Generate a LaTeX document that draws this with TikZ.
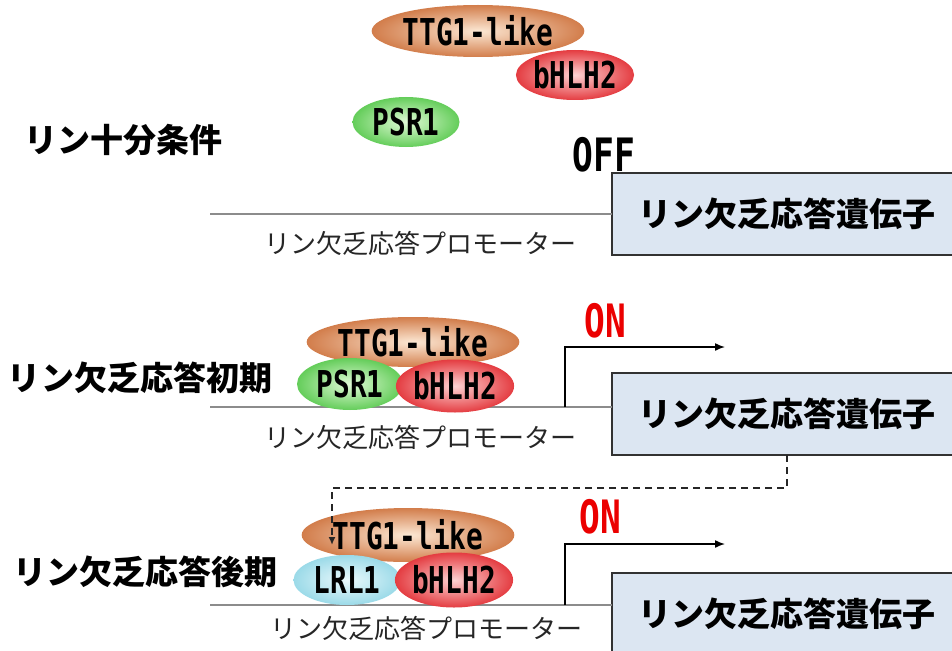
\documentclass[tikz,border=0pt]{standalone}
\usepackage{fontspec}
\usepackage{graphicx}
\setmainfont{Noto Sans CJK JP}
\setmonofont{DejaVu Sans Mono}
\usetikzlibrary{shapes.geometric,arrows.meta}

\definecolor{ttgout}{RGB}{210,125,75}
\definecolor{ttgin}{RGB}{252,232,212}
\definecolor{bhlhout}{RGB}{228,60,65}
\definecolor{bhlhin}{RGB}{253,210,210}
\definecolor{psrout}{RGB}{100,205,90}
\definecolor{psrin}{RGB}{225,250,215}
\definecolor{lrlout}{RGB}{155,218,232}
\definecolor{lrlin}{RGB}{235,249,252}
\definecolor{genefill}{RGB}{220,230,242}
\definecolor{boxline}{RGB}{50,50,50}
\definecolor{promgray}{RGB}{140,140,140}
\definecolor{onred}{RGB}{235,0,0}

\newcommand{\protname}[1]{\scalebox{0.75}[1]{\ttfamily\bfseries #1}}

\begin{document}
\begin{tikzpicture}[x=1pt,y=-1pt,inner sep=0pt,outer sep=0pt,
  every node/.style={font=\fontsize{33}{36}\selectfont\bfseries},
  prot/.style={ellipse,font=\fontsize{37}{40}\selectfont},
  ttg/.style={prot,inner color=ttgin,outer color=ttgout},
  bhlh/.style={prot,inner color=bhlhin,outer color=bhlhout},
  psr/.style={prot,inner color=psrin,outer color=psrout},
  lrl/.style={prot,inner color=lrlin,outer color=lrlout},
  switchtxt/.style={font=\fontsize{46}{48}\selectfont},
  genebox/.style={draw=boxline,line width=1.5pt,fill=genefill,minimum width=350pt,minimum height=82pt},
  promline/.style={draw=promgray,line width=1.2pt},
  promlabel/.style={font=\fontsize{26}{28}\selectfont\mdseries,text=black!85},
  tssarrow/.style={draw=black,line width=1.5pt,-{Latex[length=10pt,width=8pt]}},
  feedback/.style={draw=black!85,line width=1.6pt,dash pattern=on 7pt off 5pt,-{Latex[length=8pt,width=7pt]}}]
  \useasboundingbox (0,0) rectangle (952,650);
  \clip (0,0) rectangle (952,650);
  %
  % phosphate sufficient
  \node (condA) at (123,140) {リン十分条件};
  \node[genebox] (geneA) at (787,214) {リン欠乏応答遺伝子};
  \coordinate (lineA) at (210,214);
  \draw[promline] (lineA) -- (geneA.west |- lineA);
  \node[promlabel] (promA) at (420,243) {リン欠乏応答プロモーター};
  \node[ttg,minimum width=145pt,minimum height=52pt] (ttgA) at (478,31) {\protname{TTG1-like}};
  \node[bhlh,minimum width=103pt,minimum height=50pt] (bhlhA) at (575,75) {\protname{bHLH2}};
  \node[psr,minimum width=107pt,minimum height=50pt] (psrA) at (406,122) {\protname{PSR1}};
  \node[switchtxt] (offA) at (604,155) {\protname{OFF}};
  %
  % early phosphate starvation
  \node (condB) at (140,378) {リン欠乏応答初期};
  \node[genebox] (geneB) at (787,414) {リン欠乏応答遺伝子};
  \coordinate (lineB) at (210,407);
  \draw[promline] (lineB) -- (geneB.west |- lineB);
  \node[promlabel] (promB) at (420,437) {リン欠乏応答プロモーター};
  \node[ttg,minimum width=143pt,minimum height=50pt] (ttgB) at (413,342) {\protname{TTG1-like}};
  \node[psr,minimum width=106pt,minimum height=52pt] (psrB) at (350,384) {\protname{PSR1}};
  \node[bhlh,minimum width=104pt,minimum height=53pt] (bhlhB) at (455,386) {\protname{bHLH2}};
  \node[switchtxt,text=onred] (onB) at (605,321) {\protname{ON}};
  \coordinate (tssB) at (565,407);
  \coordinate (txB) at (725,347);
  \draw[tssarrow] (tssB) |- (txB);
  %
  % late phosphate starvation
  \node (condC) at (145,572) {リン欠乏応答後期};
  \node[genebox] (geneC) at (787,614) {リン欠乏応答遺伝子};
  \coordinate (lineC) at (210,605);
  \draw[promline] (lineC) -- (geneC.west |- lineC);
  \node[promlabel] (promC) at (426,628) {リン欠乏応答プロモーター};
  \node[ttg,minimum width=145pt,minimum height=54pt] (ttgC) at (408,535) {\protname{TTG1-like}};
  \node[lrl,minimum width=107pt,minimum height=50pt] (lrlC) at (347,580) {\protname{LRL1}};
  \node[bhlh,minimum width=102pt,minimum height=55pt] (bhlhC) at (454,580) {\protname{bHLH2}};
  \node[switchtxt,text=onred] (onC) at (600,517) {\protname{ON}};
  \coordinate (tssC) at (565,605);
  \coordinate (txC) at (725,544);
  \draw[tssarrow] (tssC) |- (txC);
  %
  % feedback
  \coordinate (fbturn) at (332,488);
  \coordinate (fbend) at (332,545);
  \draw[feedback] (geneB.south) |- (fbturn) -- (fbend);
\end{tikzpicture}
\end{document}
